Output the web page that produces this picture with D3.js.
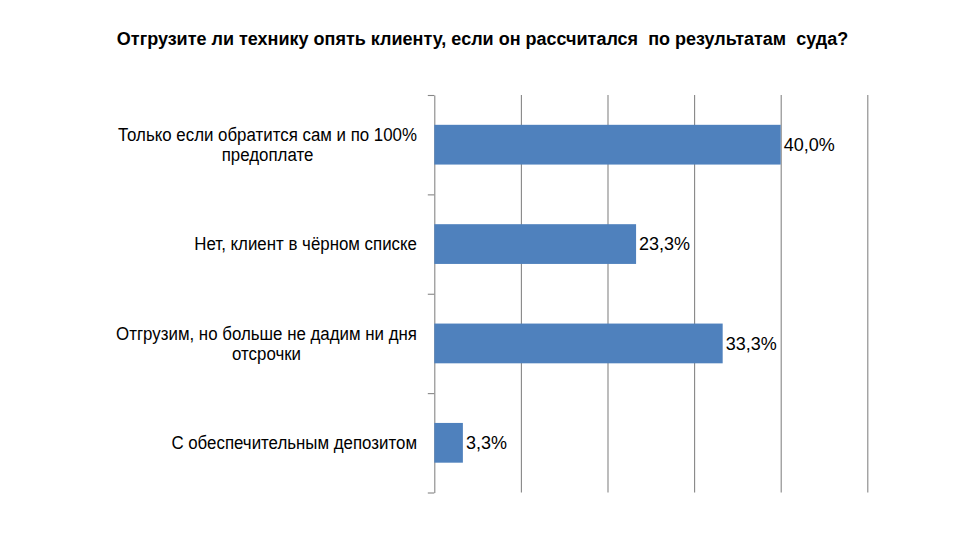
<!DOCTYPE html>
<html>
<head>
<meta charset="utf-8">
<script src="https://cdn.jsdelivr.net/npm/d3@7"></script>
<style>
  html, body { margin: 0; padding: 0; background: #fff; }
  svg { display: block; }
  text { font-family: "Liberation Sans", Arial, sans-serif; fill: #000; }
  .title { font-weight: bold; font-size: 18px; white-space: pre; }
  .cat-label, .value-label { font-size: 18px; }
</style>
</head>
<body>
<svg id="chart" width="960" height="540"></svg>
<script>
const title = "Отгрузите ли технику опять клиенту, если он рассчитался  по результатам  суда?";

// category labels, split into lines as in the picture
const categories = [
  ["Только если обратится сам и по 100%", "предоплате"],
  ["Нет, клиент в чёрном списке"],
  ["Отгрузим, но больше не дадим ни дня", "отсрочки"],
  ["С обеспечительным депозитом"]
];
const values = [0.400, 0.233, 0.333, 0.033];
const valueLabels = ["40,0%", "23,3%", "33,3%", "3,3%"];
const gridTicks = [0.1, 0.2, 0.3, 0.4, 0.5];

const svg = d3.select("#chart");
const plot = { left: 434.3, right: 867.3, top: 95, bottom: 492.5 };

const keys = categories.map((c, i) => i);

const x = d3.scaleLinear().domain([0, 0.5]).range([plot.left, plot.right]);
const y = d3.scaleBand()
  .domain(keys)
  .range([plot.top, plot.bottom])
  .paddingInner(0.6)
  .paddingOuter(0.3);

// band boundaries for the category axis ticks
const yEdges = d3.scaleLinear().domain([0, keys.length]).range([plot.top, plot.bottom]);

svg.append("text")
  .attr("class", "title")
  .attr("x", 482.5)
  .attr("y", 45)
  .attr("text-anchor", "middle")
  .text(title);

// vertical gridlines
const grid = svg.append("g")
  .attr("transform", `translate(0,${plot.bottom})`)
  .call(d3.axisBottom(x).tickValues(gridTicks).tickSize(-(plot.bottom - plot.top)).tickFormat(""));
grid.select(".domain").remove();
grid.selectAll("line").attr("stroke", "#868686").attr("stroke-width", 1.1);

// category axis
const yAxis = svg.append("g")
  .attr("transform", `translate(${plot.left},0)`)
  .call(d3.axisLeft(yEdges).tickValues(d3.range(keys.length + 1)).tickSize(6.5).tickSizeOuter(0).tickFormat(""));
yAxis.selectAll("line, path").attr("stroke", "#868686").attr("stroke-width", 1.1);

// bars
svg.append("g").selectAll("rect")
  .data(keys)
  .join("rect")
  .attr("x", x(0))
  .attr("y", (d) => y(d))
  .attr("width", (d) => x(values[d]) - x(0))
  .attr("height", y.bandwidth())
  .attr("fill", "#4F81BD");

// value labels
svg.append("g").selectAll("text")
  .data(keys)
  .join("text")
  .attr("class", "value-label")
  .attr("x", (d) => x(values[d]) + 3)
  .attr("y", (d) => y(d) + y.bandwidth() / 2 + 6.4)
  .text((d) => valueLabels[d]);

// category labels: block right-aligned, lines centred within block,
// squeezed a little to mimic the narrower original face
const labelRight = 417;
const lineGap = 20;
const squeeze = 0.937;
keys.forEach((k) => {
  const lines = categories[k];
  const cy = y(k) + y.bandwidth() / 2;
  const t = svg.append("text").attr("class", "cat-label").attr("text-anchor", "middle");
  const spans = lines.map((line, i) =>
    t.append("tspan")
      .attr("y", cy + 6.4 - ((lines.length - 1) * lineGap) / 2 + i * lineGap)
      .text(line)
  );
  const widths = spans.map((s) => s.node().getComputedTextLength() * squeeze);
  const blockW = d3.max(widths);
  spans.forEach((s, i) => s
    .attr("x", labelRight - blockW / 2)
    .attr("textLength", widths[i])
    .attr("lengthAdjust", "spacingAndGlyphs"));
});
</script>
</body>
</html>
